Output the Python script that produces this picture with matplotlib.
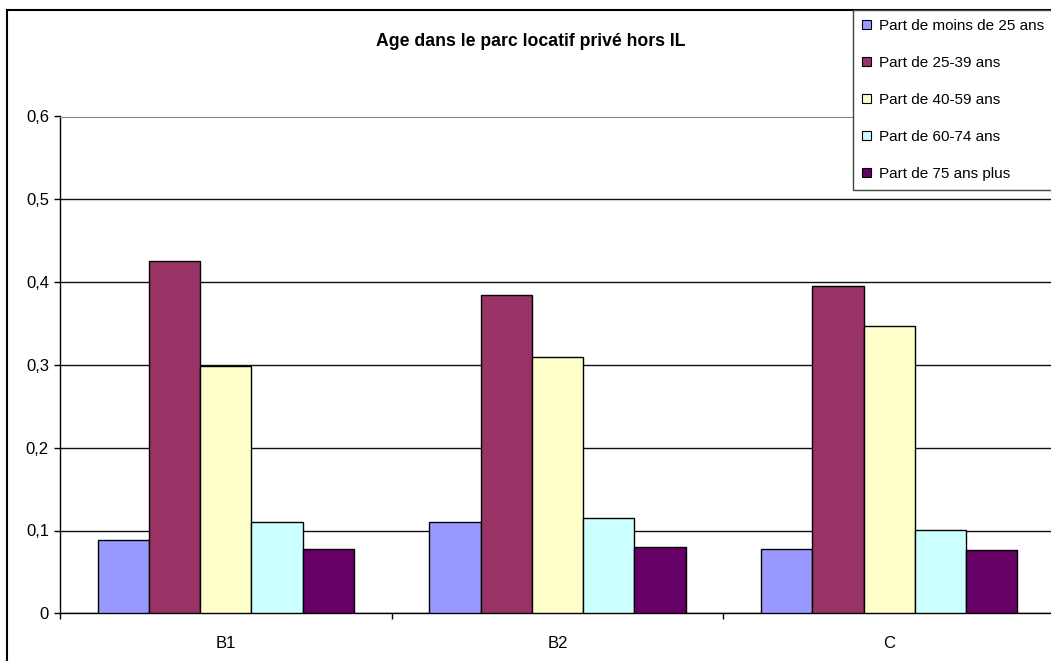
import numpy as np
import matplotlib.pyplot as plt
from matplotlib.lines import Line2D
from matplotlib.patches import Patch

plt.rcParams['font.family'] = ['Liberation Sans', 'DejaVu Sans']

# zones et parts par tranche d'âge
zones = ['B1', 'B2', 'C']
series = ['Part de moins de 25 ans', 'Part de 25-39 ans', 'Part de 40-59 ans',
          'Part de 60-74 ans', 'Part de 75 ans plus']
moins_25 = [0.089, 0.110, 0.078]
de_25_39 = [0.425, 0.384, 0.395]
de_40_59 = [0.299, 0.310, 0.347]
de_60_74 = [0.110, 0.115, 0.101]
plus_75 = [0.078, 0.080, 0.076]
colors = ['#9999FF', '#993366', '#FFFFCC', '#CCFFFF', '#660066']

W, H = 1051, 661
fig = plt.figure(figsize=(W / 100, H / 100), dpi=100)
ax = fig.add_axes([60 / W, 1 - 613.3 / H, 995 / W, (613.3 - 116.5) / H])

x = np.arange(len(zones))
width = 0.1547
values = [moins_25, de_25_39, de_40_59, de_60_74, plus_75]
for i, (vals, col) in enumerate(zip(values, colors)):
    ax.bar(x + (i - 2) * width, vals, width, color=col, edgecolor='black',
           linewidth=1.0, zorder=3, label=series[i])

ax.set_xlim(-0.5, 2.5)
ax.set_ylim(0, 0.6)
yt = np.arange(0, 0.61, 0.1)
ax.set_yticks(yt)
ax.set_yticklabels([('%.1f' % v).replace('.', ',') if v > 0 else '0' for v in yt])
ax.set_xticks(x)
ax.set_xticklabels(zones)
ax.set_xticks(np.arange(-0.5, 2.6, 1), minor=True)
ax.tick_params(axis='x', which='major', length=0, pad=16, labelsize=12)
ax.tick_params(axis='x', which='minor', length=4, width=1, direction='out')
ax.tick_params(axis='y', length=4, width=1, direction='out', pad=4, labelsize=12)

ax.yaxis.grid(True, color='#111111', linewidth=1.0, zorder=0)
ax.set_axisbelow(True)
ax.spines['right'].set_visible(False)
ax.spines['top'].set_color('#888888')
ax.spines['left'].set_linewidth(1.0)
ax.spines['bottom'].set_linewidth(1.0)

fig.text(531 / W, 1 - 42 / H, 'Age dans le parc locatif privé hors IL',
         ha='center', va='center', fontsize=12.7, fontweight='bold')

# cadre du graphique
fig.add_artist(Line2D([7 / W, 7 / W], [-0.1, 1 - 10 / H], transform=fig.transFigure,
                      color='black', linewidth=1.5))
fig.add_artist(Line2D([7 / W, 1.1], [1 - 10 / H, 1 - 10 / H], transform=fig.transFigure,
                      color='black', linewidth=1.5))

# légende collée en haut à droite, cadre prolongé au-delà du bord
handles = [Patch(facecolor=c, edgecolor='black', linewidth=0.8) for c in colors]
leg = fig.legend(handles, series, loc='upper left', mode='expand',
                 bbox_to_anchor=(853 / W, 1 - 10 / H, 0.2, 0), fontsize=11,
                 frameon=True, fancybox=False, edgecolor='#444444', framealpha=1,
                 handlelength=0.55, handleheight=0.55, handletextpad=0.55,
                 labelspacing=1.5, borderpad=0.6, borderaxespad=0)
leg.get_frame().set_linewidth(1.0)
leg.set_zorder(10)

fig.savefig('out.png', dpi=100)
